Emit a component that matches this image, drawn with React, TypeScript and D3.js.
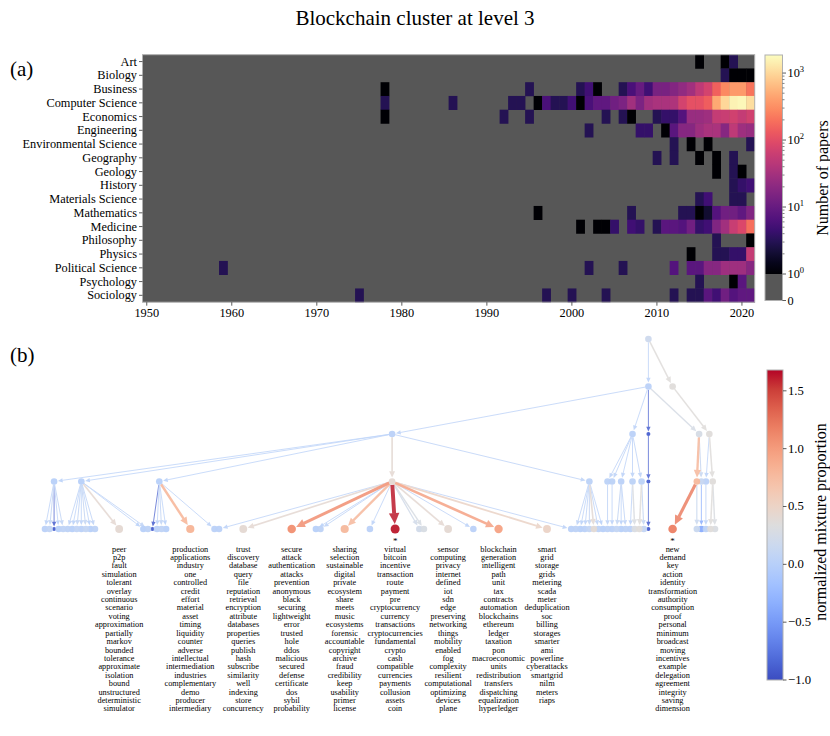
import React from "react";
import * as d3 from "d3";

const SERIF = "'Liberation Serif', 'Times New Roman', Times, 'DejaVu Serif', serif";

// ---------------- (a) heatmap data ----------------
const categories = [
  "Art", "Biology", "Business", "Computer Science", "Economics", "Engineering",
  "Environmental Science", "Geography", "Geology", "History", "Materials Science",
  "Mathematics", "Medicine", "Philosophy", "Physics", "Political Science", "Psychology", "Sociology",
];

const papersArt: [number, number][] = [[2015, 1], [2018, 1], [2019, 3]];
const papersBiology: [number, number][] = [[2018, 3], [2019, 1], [2020, 1], [2021, 1]];
const papersBusiness: [number, number][] = [
  [1978, 1], [1995, 3], [2001, 3], [2002, 5], [2003, 1], [2006, 3], [2007, 6], [2008, 10], [2009, 5],
  [2010, 14], [2011, 14], [2012, 17], [2013, 22], [2014, 30], [2015, 50], [2016, 75], [2017, 150],
  [2018, 290], [2019, 380], [2020, 380], [2021, 210],
];
const papersComputerScience: [number, number][] = [
  [1978, 3], [1986, 3], [1993, 3], [1994, 3], [1996, 1], [1997, 6], [1998, 3], [1999, 3], [2000, 5],
  [2001, 1], [2002, 6], [2003, 9], [2004, 9], [2005, 12], [2006, 15], [2007, 30], [2008, 15], [2009, 30],
  [2010, 35], [2011, 35], [2012, 38], [2013, 75], [2014, 110], [2015, 110], [2016, 140], [2017, 480],
  [2018, 1000], [2019, 1550], [2020, 1700], [2021, 1100],
];
const papersEconomics: [number, number][] = [
  [1978, 1], [1992, 3], [1995, 3], [2004, 3], [2006, 3], [2007, 1], [2010, 3], [2011, 4], [2012, 4],
  [2013, 7], [2014, 25], [2015, 25], [2016, 28], [2017, 55], [2018, 60], [2019, 70], [2020, 55], [2021, 70],
];
const papersEngineering: [number, number][] = [
  [2002, 3], [2008, 4], [2009, 4], [2011, 1], [2012, 8], [2013, 18], [2014, 18], [2015, 28], [2016, 35],
  [2017, 35], [2018, 18], [2019, 50], [2020, 28], [2021, 25],
];
const papersEnvironmental: [number, number][] = [[2012, 3], [2014, 1], [2016, 1], [2021, 3]];
const papersGeography: [number, number][] = [[2010, 3], [2012, 3], [2015, 1], [2017, 1], [2019, 3]];
const papersGeology: [number, number][] = [[2017, 1], [2019, 3], [2020, 1]];
const papersHistory: [number, number][] = [[2019, 3], [2020, 4], [2021, 5]];
const papersMaterials: [number, number][] = [[2015, 3], [2016, 5], [2019, 3], [2020, 3]];
const papersMathematics: [number, number][] = [
  [1996, 1], [2007, 3], [2013, 3], [2014, 3], [2015, 1], [2016, 2], [2017, 7], [2018, 12], [2019, 12],
  [2020, 9], [2021, 16],
];
const papersMedicine: [number, number][] = [
  [2001, 1], [2003, 1], [2004, 1], [2005, 4], [2007, 5], [2008, 4], [2010, 3], [2011, 8], [2012, 8],
  [2013, 7], [2014, 12], [2015, 4], [2016, 5], [2017, 16], [2018, 30], [2019, 60], [2020, 85], [2021, 190],
];
const papersPhilosophy: [number, number][] = [[2017, 3], [2021, 1]];
const papersPhysics: [number, number][] = [[2014, 1], [2017, 3], [2018, 3], [2019, 4], [2020, 4], [2021, 55]];
const papersPolitical: [number, number][] = [
  [1959, 3], [2002, 3], [2006, 3], [2012, 7], [2014, 8], [2015, 8], [2016, 18], [2017, 18], [2018, 28],
  [2019, 28], [2020, 28], [2021, 18],
];
const papersPsychology: [number, number][] = [[2015, 3], [2019, 1], [2020, 8]];
const papersSociology: [number, number][] = [
  [1975, 3], [1997, 3], [2000, 3], [2004, 3], [2012, 3], [2014, 3], [2015, 3], [2016, 8], [2017, 5],
  [2018, 12], [2019, 7], [2020, 9], [2021, 9],
];

const categoryCounts = [
  papersArt, papersBiology, papersBusiness, papersComputerScience, papersEconomics, papersEngineering,
  papersEnvironmental, papersGeography, papersGeology, papersHistory, papersMaterials, papersMathematics,
  papersMedicine, papersPhilosophy, papersPhysics, papersPolitical, papersPsychology, papersSociology,
];

const yearTicks = [1950, 1960, 1970, 1980, 1990, 2000, 2010, 2020];
const countTicks = [1, 10, 100, 1000];
const maxCount = 1860;

// ---------------- (b) hierarchy data ----------------
// [id, parent, normalized mixture proportion]
const clusterNodes: [string, string | null, number][] = [
  ["root", null, 0.18],
  ["A", "root", 0.02],
  ["B", "root", 0.36],
  ["H", "A", 0.02],
  ["C2", "A", 0.02],
  ["D2", "A", -0.88],
  ["E2", "A", 0.26],
  ["F2", "B", 0.36],
  ["P1", "H", 0.0], ["P2", "H", 0.0], ["P3", "H", 0.0], ["P4", "H", 0.42], ["P5", "H", 0.04],
  ["Q1", "C2", 0.04], ["Q2", "C2", 0.04], ["Q3", "C2", 0.02], ["Q4", "C2", 0.04], ["Q5", "C2", 0.04],
  ["Q6", "D2", -0.88],
  ["S1", "E2", 0.78], ["S2", "E2", 0.12], ["S3", "F2", 0.02], ["S4", "F2", 0.36],
];

// node that an upper block is drawn above
const blockAnchors: [string, string][] = [
  ["root", "A"], ["A", "D2"], ["B", "new"], ["H", "P4"], ["C2", "Q4"], ["D2", "Q6"],
];

// leaves in order: [parent, kind (b = bundled, s = single), mixture, topic]
const topicLeaves: [string, "b" | "s", number, string | null][] = [
  ["P1", "b", 0.02, null], ["P1", "b", 0.08, null], ["P1", "b", -0.9, null], ["P1", "b", 0.0, null], ["P1", "b", 0.06, null],
  ["P2", "b", 0.05, null], ["P2", "b", 0.0, null], ["P2", "b", 0.08, null], ["P2", "b", 0.02, null],
  ["P2", "b", 0.1, null], ["P2", "b", 0.0, null], ["P2", "b", 0.05, null],
  ["P2", "s", 0.42, "peer"],
  ["P2", "b", 0.0, null], ["P2", "b", 0.05, null],
  ["P3", "b", -0.9, null], ["P3", "b", 0.02, null], ["P3", "b", 0.06, null], ["P3", "b", 0.0, null],
  ["P3", "s", 0.82, "production"],
  ["P3", "b", 0.02, null],
  ["P4", "b", 0.02, null],
  ["P4", "s", 0.42, "trust"],
  ["P4", "s", 1.08, "secure"],
  ["P4", "b", 0.0, null], ["P4", "b", 0.05, null],
  ["P4", "s", 0.78, "sharing"],
  ["P4", "s", 0.02, null],
  ["P4", "s", 1.62, "virtual"],
  ["P4", "b", 0.22, null], ["P4", "b", 0.28, null],
  ["P4", "s", 0.42, "sensor"],
  ["P4", "s", 0.02, null],
  ["P4", "s", 0.95, "blockchain"],
  ["P4", "s", 0.5, "smart"],
  ["P4", "b", 0.02, null],
  ["P5", "b", 0.05, null], ["P5", "b", 0.0, null], ["P5", "b", 0.02, null], ["P5", "b", 0.1, null],
  ["P5", "b", 0.4, null], ["P5", "b", 0.05, null], ["P5", "b", 0.0, null],
  ["Q1", "b", 0.05, null],
  ["Q2", "b", 0.02, null],
  ["Q3", "b", 0.1, null], ["Q3", "b", 0.0, null], ["Q3", "b", 0.05, null],
  ["Q4", "b", 0.02, null], ["Q4", "b", 0.3, null],
  ["Q5", "b", 0.36, null], ["Q5", "b", 0.1, null],
  ["Q6", "b", -0.9, null],
  ["S1", "s", 1.17, "new"],
  ["S1", "b", 0.15, null],
  ["S2", "b", -0.35, null],
  ["S3", "b", 0.05, null],
  ["S4", "b", 0.36, null], ["S4", "b", 0.3, null],
];

const starredTopics = ["virtual", "new"];

const wordsPeer = ["peer", "p2p", "fault", "simulation", "tolerant", "overlay", "continuous", "scenario", "voting", "approximation", "partially", "markov", "bounded", "tolerance", "approximate", "isolation", "bound", "unstructured", "deterministic", "simulator"];
const wordsProduction = ["production", "applications", "industry", "one", "controlled", "credit", "effort", "material", "asset", "timing", "liquidity", "counter", "adverse", "intellectual", "intermediation", "industries", "complementary", "demo", "producer", "intermediary"];
const wordsTrust = ["trust", "discovery", "database", "query", "file", "reputation", "retrieval", "encryption", "attribute", "databases", "properties", "queries", "publish", "hash", "subscribe", "similarity", "well", "indexing", "store", "concurrency"];
const wordsSecure = ["secure", "attack", "authentication", "attacks", "prevention", "anonymous", "black", "securing", "lightweight", "error", "trusted", "hole", "ddos", "malicious", "secured", "defense", "certificate", "dos", "sybil", "probability"];
const wordsSharing = ["sharing", "selection", "sustainable", "digital", "private", "ecosystem", "share", "meets", "music", "ecosystems", "forensic", "accountable", "copyright", "archive", "fraud", "credibility", "keep", "usability", "primer", "license"];
const wordsVirtual = ["virtual", "bitcoin", "incentive", "transaction", "route", "payment", "pre", "cryptocurrency", "currency", "transactions", "cryptocurrencies", "fundamental", "crypto", "cash", "compatible", "currencies", "payments", "collusion", "assets", "coin"];
const wordsSensor = ["sensor", "computing", "privacy", "internet", "defined", "iot", "sdn", "edge", "preserving", "networking", "things", "mobility", "enabled", "fog", "complexity", "resilient", "computational", "optimizing", "devices", "plane"];
const wordsBlockchain = ["blockchain", "generation", "intelligent", "path", "unit", "tax", "contracts", "automation", "blockchains", "ethereum", "ledger", "taxation", "pon", "macroeconomic", "units", "redistribution", "transfers", "dispatching", "equalization", "hyperledger"];
const wordsSmart = ["smart", "grid", "storage", "grids", "metering", "scada", "meter", "deduplication", "soc", "billing", "storages", "smarter", "ami", "powerline", "cyberattacks", "smartgrid", "nilm", "meters", "riaps"];
const wordsNew = ["new", "demand", "key", "action", "identity", "transformation", "authority", "consumption", "proof", "personal", "minimum", "broadcast", "moving", "incentives", "example", "delegation", "agreement", "integrity", "saving", "dimension"];

const topicWords: Record<string, string[]> = {
  peer: wordsPeer, production: wordsProduction, trust: wordsTrust, secure: wordsSecure,
  sharing: wordsSharing, virtual: wordsVirtual, sensor: wordsSensor, blockchain: wordsBlockchain,
  smart: wordsSmart, new: wordsNew,
};

const mixtureTicks = [-1.0, -0.5, 0.0, 0.5, 1.0, 1.5];
const mixtureMin = -1.0;
const mixtureMax = 1.68;

// coolwarm colormap anchor colours
const coolwarm = [
  "#3b4cc0", "#4d68d7", "#6282ea", "#779af7", "#8db0fe", "#a3c2ff", "#b8d0f9", "#ccd9ee", "#dddddd",
  "#ecd3c5", "#f5c4ac", "#f7b193", "#f49a7b", "#ec7f63", "#de604d", "#cb3e38", "#b40426",
];

type TNode = {
  id: string; parent: string | null; v: number; level: number; x: number; y: number;
  leafIndex?: number; kind?: "b" | "s"; topic?: string | null; children: TNode[];
};

export default function App() {
  const W = 830, H = 736;
  const frame = "#b0b0b0";

  // ---- heatmap scales
  const x = d3.scaleLinear().domain([1949.5, 2021.5]).range([142.5, 754.7]);
  const y = d3.scaleBand<string>().domain(categories).range([54.7, 302.2]);
  const magma = d3.scaleSequentialLog(d3.interpolateMagma).domain([1, maxCount]);
  const cells = categories.flatMap((c, i) => categoryCounts[i].map(([yr, n]) => ({ c, yr, n })));

  const cbX = 765, cbW = 17.5;
  const cbY = d3.scaleLog().domain([1, maxCount]).range([274, 55]);
  const cbZero = 300.5;
  const minorTicks = cbY.ticks().filter((t) => !countTicks.includes(t));
  const magmaStops = d3.range(0, 1.0001, 0.05);

  // ---- tree
  const mix = d3.scaleSequential(d3.piecewise(d3.interpolateRgb, coolwarm)).domain([mixtureMin, mixtureMax]);
  const nodes = new Map<string, TNode>();
  clusterNodes.forEach(([id, parent, v]) => nodes.set(id, { id, parent, v, level: 0, x: 0, y: 0, children: [] }));
  topicLeaves.forEach(([parent, kind, v, topic], i) => {
    const id = topic ?? `leaf${i}`;
    nodes.set(id, { id, parent, v, level: 0, x: 0, y: 0, leafIndex: i, kind, topic, children: [] });
  });
  nodes.forEach((n) => { if (n.parent) nodes.get(n.parent)!.children.push(n); });
  const depth = (n: TNode): number => (n.parent ? depth(nodes.get(n.parent)!) + 1 : 0);
  nodes.forEach((n) => (n.level = depth(n)));
  const levelY = d3.scaleLinear().domain([0, 4]).range([339, 529]);

  let acc = 0;
  const units: number[] = [];
  topicLeaves.forEach((l, i) => {
    if (i > 0) {
      const p = topicLeaves[i - 1];
      let g: number;
      if (p[1] === "b" && l[1] === "b") g = 4.5;
      else if (p[1] === "s" && l[1] === "s") g = p[3] && l[3] ? 48 : 25;
      else g = 24;
      acc += g;
    }
    units.push(acc);
  });
  const leafX = d3.scaleLinear().domain([0, acc]).range([45, 715]);
  nodes.forEach((n) => {
    if (n.leafIndex !== undefined) n.x = leafX(units[n.leafIndex]);
    n.y = levelY(n.level);
  });
  const anchors = new Map(blockAnchors);
  const internal = [...nodes.values()].filter((n) => n.leafIndex === undefined).sort((a, b) => b.level - a.level);
  internal.forEach((n) => {
    const a = anchors.get(n.id);
    if (a) { n.x = nodes.get(a)!.x; return; }
    const leafKids = n.children.filter((c) => c.leafIndex !== undefined);
    if (leafKids.length) {
      const bk = leafKids.filter((c) => c.kind === "b").sort((p, q) => p.leafIndex! - q.leafIndex!);
      const runs: TNode[][] = [];
      bk.forEach((c) => {
        const last = runs[runs.length - 1];
        if (last && c.leafIndex === last[last.length - 1].leafIndex! + 1) last.push(c);
        else runs.push([c]);
      });
      const best = runs.reduce((m, r) => (r.length > m.length ? r : m), [] as TNode[]);
      if (best.length && (runs.length === 1 || best.length >= 3)) n.x = d3.mean(best, (c) => c.x)!;
      else n.x = d3.mean(n.children, (c) => c.x)!;
    } else n.x = d3.mean(n.children, (c) => c.x)!;
  });

  const radius = (n: TNode) => {
    if (n.v < -0.5) return 2;
    if (n.topic) return 3.7 + 0.5 * Math.max(0, n.v);
    return 3.3;
  };

  const edges = [...nodes.values()]
    .filter((n) => n.parent)
    .sort((a, b) => a.v - b.v)
    .map((n) => {
      const p = nodes.get(n.parent!)!;
      const w = 0.85 + 1.9 * Math.max(0, n.v);
      const dx = n.x - p.x, dy = n.y - p.y;
      const L = Math.hypot(dx, dy);
      const ux = dx / L, uy = dy / L;
      const headL = 3 + 2 * w, headW = 1.3 + 1.0 * w;
      const tipX = n.x - ux * (radius(n) + 0.6), tipY = n.y - uy * (radius(n) + 0.6);
      const bX = tipX - ux * headL, bY = tipY - uy * headL;
      const sX = p.x + ux * radius(p), sY = p.y + uy * radius(p);
      const px = -uy, py = ux;
      return {
        id: n.id, color: mix(n.v), w,
        line: [sX, sY, bX + ux * 0.5, bY + uy * 0.5],
        head: `${tipX},${tipY} ${bX + px * headW},${bY + py * headW} ${bX - px * headW},${bY - py * headW}`,
      };
    });

  const drawNodes = [...nodes.values()].sort((a, b) => a.v - b.v);
  const labeled = [...nodes.values()].filter((n) => n.topic);

  const mixY = d3.scaleLinear().domain([mixtureMin, mixtureMax]).range([680, 370]);
  const mixStops = d3.range(0, 1.0001, 1 / 32);
  const fmt = (t: number) => d3.format(".1f")(t).replace("-", "\u2212");

  return (
    <svg width={W} height={H} viewBox={`0 0 ${W} ${H}`} style={{ position: "absolute", left: 0, top: 0, background: "#fff" }} fontFamily={SERIF}>
      <defs>
        <linearGradient id="magmaGrad" x1="0" y1="1" x2="0" y2="0">
          {magmaStops.map((t) => (
            <stop key={t} offset={t} stopColor={d3.interpolateMagma(t)} />
          ))}
        </linearGradient>
        <linearGradient id="mixGrad" x1="0" y1="1" x2="0" y2="0">
          {mixStops.map((t) => (
            <stop key={t} offset={t} stopColor={mix(mixtureMin + t * (mixtureMax - mixtureMin))} />
          ))}
        </linearGradient>
      </defs>

      <text x={415} y={25} fontSize={21} textAnchor="middle" fill="#000">Blockchain cluster at level 3</text>
      <text x={10} y={76} fontSize={21} fill="#000">(a)</text>
      <text x={10} y={362} fontSize={21} fill="#000">(b)</text>

      {/* heatmap */}
      <rect x={x(1949.5)} y={y.range()[0]} width={x(2021.5) - x(1949.5)} height={y.range()[1] - y.range()[0]} fill="#575757" />
      {cells.map((d, i) => (
        <rect key={i} x={x(d.yr - 0.5)} y={y(d.c)!} width={x(d.yr + 0.5) - x(d.yr - 0.5) + 0.3} height={y.bandwidth() + 0.3} fill={magma(d.n)} />
      ))}
      <rect x={x(1949.5)} y={y.range()[0]} width={x(2021.5) - x(1949.5)} height={y.range()[1] - y.range()[0]} fill="none" stroke={frame} strokeWidth={1} />
      {categories.map((c) => (
        <g key={c}>
          <line x1={x(1949.5)} x2={x(1949.5) - 3.5} y1={y(c)! + y.bandwidth() / 2} y2={y(c)! + y.bandwidth() / 2} stroke="#333" strokeWidth={0.8} />
          <text x={x(1949.5) - 5.5} y={y(c)! + y.bandwidth() / 2} fontSize={12.3} textAnchor="end" dominantBaseline="central" fill="#000">{c}</text>
        </g>
      ))}
      {yearTicks.map((t) => (
        <g key={t}>
          <line x1={x(t)} x2={x(t)} y1={y.range()[1]} y2={y.range()[1] + 3.5} stroke="#333" strokeWidth={0.8} />
          <text x={x(t)} y={313} fontSize={12.3} textAnchor="middle" dominantBaseline="central" fill="#000">{t}</text>
        </g>
      ))}

      {/* count colorbar */}
      <rect x={cbX} y={cbY(maxCount)} width={cbW} height={cbY(1) - cbY(maxCount)} fill="url(#magmaGrad)" />
      <rect x={cbX} y={cbY(1)} width={cbW} height={cbZero - cbY(1)} fill="#575757" />
      <rect x={cbX} y={cbY(maxCount)} width={cbW} height={cbZero - cbY(maxCount)} fill="none" stroke={frame} strokeWidth={1} />
      {countTicks.map((t, i) => (
        <g key={t}>
          <line x1={cbX + cbW} x2={cbX + cbW + 3.5} y1={cbY(t)} y2={cbY(t)} stroke="#333" strokeWidth={0.8} />
          <text x={cbX + cbW + 5} y={cbY(t) + 4} fontSize={12.3} fill="#000">
            10<tspan dy={-5} fontSize={8.5}>{i}</tspan>
          </text>
        </g>
      ))}
      {minorTicks.map((t) => (
        <line key={t} x1={cbX + cbW} x2={cbX + cbW + 2} y1={cbY(t)} y2={cbY(t)} stroke="#333" strokeWidth={0.6} />
      ))}
      <line x1={cbX + cbW} x2={cbX + cbW + 3.5} y1={cbZero} y2={cbZero} stroke="#333" strokeWidth={0.8} />
      <text x={cbX + cbW + 5} y={cbZero} fontSize={12.3} dominantBaseline="central" fill="#000">0</text>
      <text transform={`translate(822,178) rotate(-90)`} fontSize={16} textAnchor="middle" dominantBaseline="central" fill="#000">Number of papers</text>

      {/* hierarchy */}
      <g opacity={0.85}>
        {edges.map((e) => (
          <g key={e.id}>
            <line x1={e.line[0]} y1={e.line[1]} x2={e.line[2]} y2={e.line[3]} stroke={e.color} strokeWidth={e.w} />
            <polygon points={e.head} fill={e.color} />
          </g>
        ))}
      </g>
      {drawNodes.map((n) => (
        <circle key={n.id} cx={n.x} cy={n.y} r={radius(n)} fill={mix(n.v)} fillOpacity={0.95} />
      ))}
      {labeled.filter((n) => starredTopics.includes(n.topic!)).map((n) => (
        <text key={`star-${n.id}`} x={n.x} y={544} fontSize={9} textAnchor="middle" fill="#000">*</text>
      ))}
      <g opacity={0.999} fill="#000">
        {labeled.map((n) => (
          <g key={`w-${n.id}`}>
            {topicWords[n.topic!].map((w, i) => (
              <text key={w + i} x={n.x} y={549 + i * 8.42} fontSize={8.3} textAnchor="middle" dominantBaseline="central" fill="#000">{w}</text>
            ))}
          </g>
        ))}
      </g>

      {/* mixture colorbar */}
      <rect x={767} y={mixY(mixtureMax)} width={16} height={mixY(mixtureMin) - mixY(mixtureMax)} fill="url(#mixGrad)" stroke={frame} strokeWidth={1} />
      {mixtureTicks.map((t) => (
        <g key={t}>
          <line x1={783} x2={786.5} y1={mixY(t)} y2={mixY(t)} stroke="#333" strokeWidth={0.8} />
          <text x={788} y={mixY(t)} fontSize={12.7} dominantBaseline="central" fill="#000">{fmt(t)}</text>
        </g>
      ))}
      <text transform={`translate(820,522) rotate(-90)`} fontSize={16} textAnchor="middle" dominantBaseline="central" fill="#000">normalized mixture proportion</text>
    </svg>
  );
}
